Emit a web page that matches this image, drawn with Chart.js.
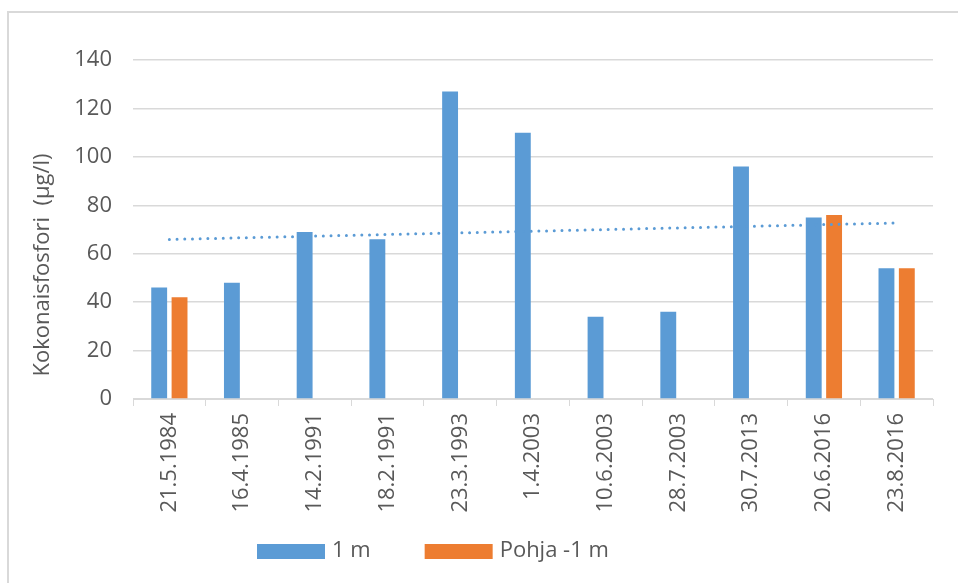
<!DOCTYPE html>
<html>
<head>
<meta charset="utf-8">
<script src="https://cdn.jsdelivr.net/npm/chart.js@4/dist/chart.umd.min.js"></script>
<style>
  html, body { margin: 0; padding: 0; background: #fff; overflow: hidden; }
  #wrap { position: relative; width: 958px; height: 583px; }
  #frame { position: absolute; left: 7px; top: 11px; width: 1000px; height: 1000px; border: 2px solid #d9d9d9; }
  #myChart { position: absolute; left: 0; top: 0; }
</style>
</head>
<body>
<div id="wrap">
  <div id="frame"></div>
  <canvas id="myChart" width="958" height="583"></canvas>
</div>
<script>
const dates = ['21.5.1984', '16.4.1985', '14.2.1991', '18.2.1991', '23.3.1993', '1.4.2003',
               '10.6.2003', '28.7.2003', '30.7.2013', '20.6.2016', '23.8.2016'];
const surface = [46, 48, 69, 66, 127, 110, 34, 36, 96, 75, 54];          // 1 m
const bottom = [42, null, null, null, null, null, null, null, null, 76, 54]; // Pohja -1 m
const trend = [65.9, null, null, null, null, null, null, null, null, null, 72.7];
const yTicks = [0, 20, 40, 60, 80, 100, 120, 140];

const yTitle = 'Kokonaisfosfori  (µg/l)';
const FONT = '"Open Sans", sans-serif';
const SIZE = 22;
const GREY = '#595959';

// axis title and legend drawn by hand so they sit where they should
const extras = {
    id: 'extras',
    afterDraw(chart) {
        const ctx = chart.ctx;
        ctx.save();
        ctx.fillStyle = GREY;
        ctx.font = SIZE + 'px ' + FONT;
        ctx.textAlign = 'center';
        ctx.textBaseline = 'middle';
        ctx.translate(43, 265);
        ctx.rotate(-Math.PI / 2);
        ctx.fillText(yTitle, 0, 0);
        ctx.restore();

        ctx.save();
        ctx.font = SIZE + 'px ' + FONT;
        ctx.textBaseline = 'middle';
        let x = 257;
        chart.data.datasets.filter(d => d.type !== 'line').forEach(d => {
            ctx.fillStyle = d.backgroundColor;
            ctx.fillRect(x, 544, 68, 15);
            ctx.fillStyle = GREY;
            ctx.fillText(d.label, x + 75, 551);
            x += 75 + ctx.measureText(d.label).width + 54;
        });
        ctx.restore();
    }
};

const ctx = document.getElementById('myChart').getContext('2d');
const myChart = new Chart(ctx, {
    type: 'bar',
    data: {
        labels: dates,
        datasets: [{
            label: '1 m',
            data: surface,
            backgroundColor: '#5B9BD5',
            categoryPercentage: 0.56,
            barPercentage: 0.78,
            order: 1
        }, {
            label: 'Pohja -1 m',
            data: bottom,
            backgroundColor: '#ED7D31',
            categoryPercentage: 0.56,
            barPercentage: 0.78,
            order: 1
        }, {
            type: 'line',
            label: 'trend',
            data: trend,
            borderColor: '#5B9BD5',
            borderWidth: 3,
            borderDash: [0, 7.7],
            borderCapStyle: 'round',
            pointRadius: 0,
            spanGaps: true,
            order: 0
        }]
    },
    options: {
        responsive: false,
        animation: false,
        layout: { padding: { left: 10, right: 25, top: 60, bottom: 0 } },
        plugins: {
            legend: { display: false },
            tooltip: { enabled: false }
        },
        scales: {
            x: {
                afterFit: s => { s.height = 184; },
                grid: { drawOnChartArea: false, drawTicks: true, tickLength: 7, color: '#d9d9d9' },
                border: { color: '#d9d9d9' },
                ticks: {
                    minRotation: 90, maxRotation: 90, padding: 7,
                    color: GREY, font: { family: FONT, size: SIZE }
                }
            },
            y: {
                min: 0, max: 140,
                afterFit: s => { s.width = 123; },
                afterBuildTicks: s => { s.ticks = yTicks.map(v => ({ value: v })); },
                grid: { drawTicks: false, color: '#d9d9d9', lineWidth: 1.5 },
                border: { display: false },
                ticks: { padding: 21, color: GREY, font: { family: FONT, size: SIZE } }
            }
        }
    },
    plugins: [extras]
});
</script>
</body>
</html>
